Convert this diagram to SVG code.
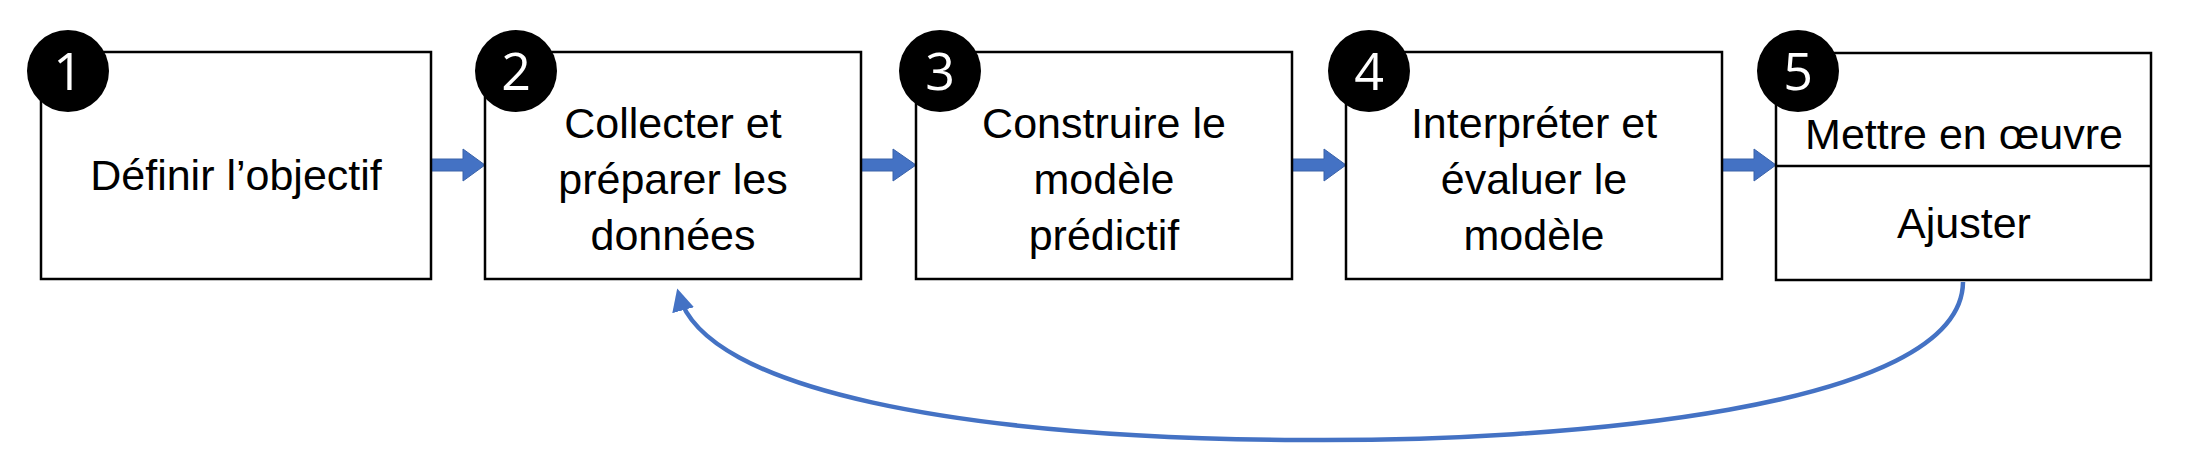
<svg xmlns="http://www.w3.org/2000/svg" width="2186" height="464" viewBox="0 0 2186 464">
<style>
.box{fill:#fff;stroke:#000;stroke-width:2.5}
.num{fill:#000}
.nt{font-family:"Open Sans","Liberation Sans",sans-serif;font-size:52px;fill:#fff;text-anchor:middle}
.t{font-family:"Liberation Sans",sans-serif;font-size:43px;fill:#000;text-anchor:middle}
.blk{fill:#4472C4;stroke:#3a62a8;stroke-width:1}
</style>
<defs>
<marker id="ah" markerWidth="5" markerHeight="5" refX="3.5" refY="2.5" orient="auto" markerUnits="strokeWidth">
<path d="M0,0 L5,2.5 L0,5 Z" fill="#4472C4"/>
</marker>
</defs>
<g id="connectors">
<path class="blk" d="M431,159 H463 V149 L485,165 L463,181 V171 H431 Z"/>
<path class="blk" d="M861,159 H893 V149 L916,165 L893,181 V171 H861 Z"/>
<path class="blk" d="M1292,159 H1324 V149 L1346,165 L1324,181 V171 H1292 Z"/>
<path class="blk" d="M1722,159 H1754 V149 L1776,165 L1754,181 V171 H1722 Z"/>
<path d="M1963,282 C1962,410 1560,442 1300,440 C960,438 705,390 679,295" fill="none" stroke="#4472C4" stroke-width="4.5" marker-end="url(#ah)"/>
</g>
<g id="n1">
<rect class="box" x="41" y="52" width="390" height="227"/>
<text class="t" x="236" y="190">Définir l’objectif</text>
<circle class="num" cx="68" cy="71" r="41"/><text class="nt" x="68" y="90">1</text>
</g>
<g id="n2">
<rect class="box" x="485" y="52" width="376" height="227"/>
<text class="t" x="673" y="138">Collecter et</text>
<text class="t" x="673" y="194">préparer les</text>
<text class="t" x="673" y="250">données</text>
<circle class="num" cx="516" cy="71" r="41"/><text class="nt" x="516" y="90">2</text>
</g>
<g id="n3">
<rect class="box" x="916" y="52" width="376" height="227"/>
<text class="t" x="1104" y="138">Construire le</text>
<text class="t" x="1104" y="194">modèle</text>
<text class="t" x="1104" y="250">prédictif</text>
<circle class="num" cx="940" cy="71" r="41"/><text class="nt" x="940" y="90">3</text>
</g>
<g id="n4">
<rect class="box" x="1346" y="52" width="376" height="227"/>
<text class="t" x="1534" y="138">Interpréter et</text>
<text class="t" x="1534" y="194">évaluer le</text>
<text class="t" x="1534" y="250">modèle</text>
<circle class="num" cx="1369" cy="71" r="41"/><text class="nt" x="1369" y="90">4</text>
</g>
<g id="n5">
<rect class="box" x="1776" y="53" width="375" height="227"/>
<line x1="1776" y1="166" x2="2151" y2="166" stroke="#000" stroke-width="2.5"/>
<text class="t" x="1964" y="149">Mettre en œuvre</text>
<text class="t" x="1964" y="238">Ajuster</text>
<circle class="num" cx="1798" cy="71" r="41"/><text class="nt" x="1798" y="90">5</text>
</g>
</svg>
